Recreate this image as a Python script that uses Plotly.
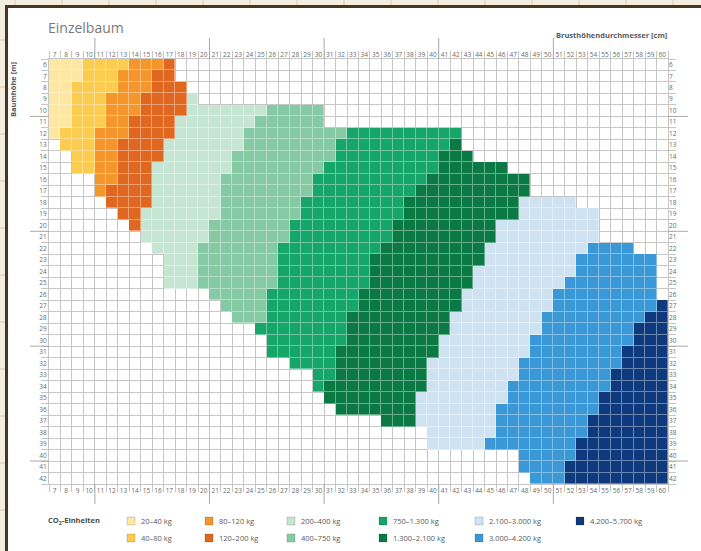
import plotly.graph_objects as go

# ---------------- data ----------------
diameters_cm = list(range(7, 61))      # Brusthöhendurchmesser [cm]
heights_m = list(range(6, 43))         # Baumhöhe [m]

class_labels = ["20–40 kg", "40–80 kg", "80–120 kg", "120–200 kg", "200–400 kg",
                "400–750 kg", "750–1.300 kg", "1.300–2.100 kg", "2.100–3.000 kg",
                "3.000–4.200 kg", "4.200–5.700 kg"]
class_colors = ["#fde7a2", "#fbcc50", "#f4962b", "#df671f", "#c6e6d3", "#86c9a5",
                "#17a66a", "#0b7944", "#cfe2f2", "#3b98d6", "#0e3a7d"]

# runs per class: (height m, first diameter cm, last diameter cm)
runs_20_40 = [(6, 7, 9), (7, 7, 9), (8, 7, 8), (9, 7, 8), (10, 7, 8), (11, 7, 8), (12, 7, 7)]
runs_40_80 = [(6, 10, 13), (7, 10, 12), (8, 9, 12), (9, 9, 11), (10, 9, 11), (11, 9, 11),
              (12, 8, 10), (13, 8, 10), (14, 9, 10), (15, 9, 10)]
runs_80_120 = [(6, 14, 16), (7, 13, 15), (8, 13, 15), (9, 12, 14), (10, 12, 14), (11, 12, 13),
               (12, 11, 13), (13, 11, 12), (14, 11, 12), (15, 11, 12), (16, 11, 12), (17, 11, 11)]
runs_120_200 = [(6, 17, 17), (7, 16, 17), (8, 16, 18), (9, 15, 18), (10, 15, 18), (11, 14, 17),
                (12, 14, 17), (13, 13, 16), (14, 13, 16), (15, 13, 15), (16, 13, 15), (17, 12, 15),
                (18, 12, 15), (19, 13, 14), (20, 14, 14)]
runs_200_400 = [(9, 19, 19), (10, 19, 25), (11, 18, 24), (12, 18, 23), (13, 17, 23), (14, 17, 22),
                (15, 16, 22), (16, 16, 21), (17, 16, 21), (18, 16, 21), (19, 15, 21), (20, 15, 20),
                (21, 15, 20), (22, 16, 19), (23, 17, 19), (24, 17, 19), (25, 17, 19)]
runs_400_750 = [(10, 26, 30), (11, 25, 30), (12, 24, 32), (13, 24, 31), (14, 23, 31), (15, 23, 30),
                (16, 22, 29), (17, 22, 29), (18, 22, 28), (19, 22, 28), (20, 21, 27), (21, 21, 27),
                (22, 20, 26), (23, 20, 26), (24, 20, 26), (25, 20, 26), (26, 21, 25), (27, 22, 25),
                (28, 23, 25)]
runs_750_1300 = [(12, 33, 42), (13, 32, 41), (14, 32, 40), (15, 31, 40), (16, 30, 39), (17, 30, 38),
                 (18, 29, 37), (19, 29, 37), (20, 28, 36), (21, 28, 36), (22, 27, 35), (23, 27, 34),
                 (24, 27, 34), (25, 27, 34), (26, 26, 33), (27, 26, 33), (28, 26, 32), (29, 25, 32),
                 (30, 26, 32), (31, 26, 31), (32, 28, 31), (33, 30, 31), (34, 30, 30)]
runs_1300_2100 = [(13, 42, 42), (14, 41, 43), (15, 41, 46), (16, 40, 48), (17, 39, 48), (18, 38, 47),
                  (19, 38, 47), (20, 37, 45), (21, 37, 45), (22, 36, 44), (23, 35, 44), (24, 35, 43),
                  (25, 35, 43), (26, 34, 42), (27, 34, 42), (28, 33, 41), (29, 33, 41), (30, 33, 40),
                  (31, 32, 40), (32, 32, 39), (33, 32, 39), (34, 31, 39), (35, 31, 38), (36, 32, 38),
                  (37, 36, 38)]
runs_2100_3000 = [(18, 48, 52), (19, 48, 54), (20, 46, 54), (21, 46, 54), (22, 45, 53), (23, 45, 52),
                  (24, 44, 52), (25, 44, 51), (26, 43, 50), (27, 43, 50), (28, 42, 49), (29, 42, 49),
                  (30, 41, 48), (31, 41, 48), (32, 40, 47), (33, 40, 47), (34, 40, 46), (35, 39, 46),
                  (36, 39, 45), (37, 39, 45), (38, 40, 45), (39, 40, 44)]
runs_3000_4200 = [(22, 54, 57), (23, 53, 59), (24, 53, 59), (25, 52, 59), (26, 51, 59), (27, 51, 59),
                  (28, 50, 58), (29, 50, 57), (30, 49, 57), (31, 49, 56), (32, 48, 56), (33, 48, 55),
                  (34, 47, 55), (35, 47, 54), (36, 46, 54), (37, 46, 53), (38, 46, 53), (39, 45, 52),
                  (40, 48, 52), (41, 48, 51), (42, 49, 51)]
runs_4200_5700 = [(27, 60, 60), (28, 59, 60), (29, 58, 60), (30, 58, 60), (31, 57, 60), (32, 57, 60),
                  (33, 56, 60), (34, 56, 60), (35, 55, 60), (36, 55, 60), (37, 54, 60), (38, 54, 60),
                  (39, 53, 60), (40, 53, 60), (41, 52, 60), (42, 52, 60)]

class_runs = [runs_20_40, runs_40_80, runs_80_120, runs_120_200, runs_200_400, runs_400_750,
              runs_750_1300, runs_1300_2100, runs_2100_3000, runs_3000_4200, runs_4200_5700]

# ---------------- build matrix ----------------
z = [[None for _ in diameters_cm] for _ in heights_m]
for ci, runs in enumerate(class_runs):
    for h, d0, d1 in runs:
        for d in range(d0, d1 + 1):
            z[heights_m.index(h)][diameters_cm.index(d)] = ci

n = len(class_colors)


def lighten(hexcol, f):
    r, g, b = int(hexcol[1:3], 16), int(hexcol[3:5], 16), int(hexcol[5:7], 16)
    r, g, b = [round(c + (255 - c) * f) for c in (r, g, b)]
    return f"rgb({r},{g},{b})"


def step_scale(cols):
    sc = []
    for i, c in enumerate(cols):
        sc.append([i / n, c])
        sc.append([(i + 1) / n, c])
    return sc


fig = go.Figure()
fig.add_trace(go.Heatmap(x=diameters_cm, y=heights_m, z=z, zmin=-0.5, zmax=n - 0.5,
                         colorscale=step_scale([lighten(c, 0.38) for c in class_colors]),
                         showscale=False, hoverinfo="skip"))
fig.add_trace(go.Heatmap(x=diameters_cm, y=heights_m, z=z, zmin=-0.5, zmax=n - 0.5,
                         colorscale=step_scale(class_colors), xgap=1, ygap=1,
                         showscale=False, hoverinfo="skip"))
fig.add_trace(go.Scatter(x=[None], y=[None], xaxis="x2", yaxis="y2", showlegend=False,
                         hoverinfo="skip"))

W, H = 701, 551
ML, MR, MT, MB = 49, 33, 59, 67
PW, PH = W - ML - MR, H - MT - MB


def pxx(px):
    return (px - ML) / PW


def pxy(py):
    return (H - MB - py) / PH


GRID = "#c6c6c6"
TICKFONT = dict(family="Open Sans", size=6.5, color="#6a6a6a")
half_x = [d - 0.5 for d in diameters_cm] + [diameters_cm[-1] + 0.5]
half_y = [h - 0.5 for h in heights_m] + [heights_m[-1] + 0.5]
xr = [diameters_cm[0] - 0.5, diameters_cm[-1] + 0.5]
yr = [heights_m[-1] + 0.5, heights_m[0] - 0.5]

xcommon = dict(range=xr, tickmode="array", tickvals=diameters_cm,
               ticktext=[str(d) for d in diameters_cm], tickfont=TICKFONT, ticks="",
               showgrid=False, zeroline=False, fixedrange=True)
ycommon = dict(range=yr, tickmode="array", tickvals=heights_m,
               ticktext=[str(h) for h in heights_m], tickfont=TICKFONT, ticks="",
               showgrid=False, zeroline=False, fixedrange=True)

fig.update_layout(
    width=W, height=H, margin=dict(l=ML, r=MR, t=MT, b=MB),
    paper_bgcolor="white", plot_bgcolor="white", showlegend=False,
    xaxis=dict(**xcommon, side="bottom", showline=True, linecolor=GRID, mirror=True,
               minor=dict(tickmode="array", tickvals=half_x, showgrid=True, gridcolor=GRID,
                          gridwidth=1, ticks="outside", ticklen=7, tickcolor=GRID)),
    xaxis2=dict(**xcommon, side="top", overlaying="x",
                minor=dict(tickmode="array", tickvals=half_x, showgrid=False,
                           ticks="outside", ticklen=7, tickcolor=GRID)),
    yaxis=dict(**ycommon, side="left", showline=True, linecolor=GRID, mirror=True,
               minor=dict(tickmode="array", tickvals=half_y, showgrid=True, gridcolor=GRID,
                          gridwidth=1, ticks="outside", ticklen=7, tickcolor=GRID)),
    yaxis2=dict(**ycommon, side="right", overlaying="y",
                minor=dict(tickmode="array", tickvals=half_y, showgrid=False,
                           ticks="outside", ticklen=7, tickcolor=GRID)),
)

shapes = []
# decade marks
for xv in [10.5, 20.5, 30.5, 40.5, 50.5]:
    shapes.append(dict(type="line", xref="x", yref="paper", x0=xv, x1=xv,
                       y0=1, y1=pxy(38), line=dict(color="#a8a8a8", width=1)))
    shapes.append(dict(type="line", xref="x", yref="paper", x0=xv, x1=xv,
                       y0=0, y1=pxy(504), line=dict(color="#a8a8a8", width=1)))
for yv in [10.5, 20.5, 30.5, 40.5]:
    shapes.append(dict(type="line", xref="paper", yref="y", x0=pxx(30), x1=0,
                       y0=yv, y1=yv, line=dict(color="#a8a8a8", width=1)))
    shapes.append(dict(type="line", xref="paper", yref="y", x0=1, x1=pxx(688),
                       y0=yv, y1=yv, line=dict(color="#a8a8a8", width=1)))

# page frame (photographed page)
shapes.append(dict(type="rect", xref="paper", yref="paper", x0=pxx(0), x1=pxx(W),
                   y0=pxy(0), y1=pxy(6), fillcolor="#f3eedf", line=dict(width=0), layer="above"))
shapes.append(dict(type="rect", xref="paper", yref="paper", x0=pxx(0), x1=pxx(6),
                   y0=pxy(0), y1=pxy(H), fillcolor="#f3eedf", line=dict(width=0), layer="above"))
for px in range(15, W, 47):
    shapes.append(dict(type="line", xref="paper", yref="paper", x0=pxx(px), x1=pxx(px),
                       y0=pxy(0), y1=pxy(5), line=dict(color="#d8caa4", width=1), layer="above"))
for py in range(40, H, 47):
    shapes.append(dict(type="line", xref="paper", yref="paper", x0=pxx(0), x1=pxx(5),
                       y0=pxy(py), y1=pxy(py), line=dict(color="#d8caa4", width=1), layer="above"))
shapes.append(dict(type="line", xref="paper", yref="paper", x0=pxx(5), x1=pxx(W),
                   y0=pxy(6.5), y1=pxy(6.5), line=dict(color="#4a3521", width=3), layer="above"))
shapes.append(dict(type="line", xref="paper", yref="paper", x0=pxx(6.5), x1=pxx(6.5),
                   y0=pxy(5), y1=pxy(H), line=dict(color="#4a3521", width=3), layer="above"))

annotations = [
    dict(text="Einzelbaum", xref="paper", yref="paper", x=pxx(46), y=pxy(27),
         xanchor="left", yanchor="middle", showarrow=False,
         font=dict(family="Open Sans", size=14, color="#7a7a7a")),
    dict(text="<b>Brusthöhendurchmesser [cm]</b>", xref="paper", yref="paper",
         x=pxx(669), y=pxy(35), xanchor="right", yanchor="middle", showarrow=False,
         font=dict(family="Open Sans", size=7.5, color="#5a5a5a")),
    dict(text="<b>Baumhöhe [m]</b>", xref="paper", yref="paper", x=pxx(13), y=pxy(90),
         xanchor="center", yanchor="middle", textangle=-90, showarrow=False,
         font=dict(family="Open Sans", size=7.5, color="#5a5a5a")),
    dict(text="<b>CO<sub>2</sub>-Einheiten</b>", xref="paper", yref="paper",
         x=pxx(46), y=pxy(521), xanchor="left", yanchor="middle", showarrow=False,
         font=dict(family="Open Sans", size=7.5, color="#4a4a4a")),
]

# legend (two rows, classes alternate)
legend_x = [131, 209, 291, 383, 479, 580]
legend_y = [521, 538]
for ci, (lab, col) in enumerate(zip(class_labels, class_colors)):
    cx = legend_x[ci // 2]
    cy = legend_y[ci % 2]
    shapes.append(dict(type="rect", xref="paper", yref="paper",
                       x0=pxx(cx - 4), x1=pxx(cx + 4), y0=pxy(cy + 4), y1=pxy(cy - 4),
                       fillcolor=col, line=dict(color="rgba(0,0,0,0.25)", width=0.6)))
    annotations.append(dict(text=lab, xref="paper", yref="paper", x=pxx(cx + 8), y=pxy(cy),
                            xanchor="left", yanchor="middle", showarrow=False,
                            font=dict(family="Open Sans", size=7.5, color="#5a5a5a")))

fig.update_layout(shapes=shapes, annotations=annotations)
fig.write_html("out.html", config={"displayModeBar": False},
               post_script="document.body.style.margin='0';document.body.style.overflow='hidden';")
